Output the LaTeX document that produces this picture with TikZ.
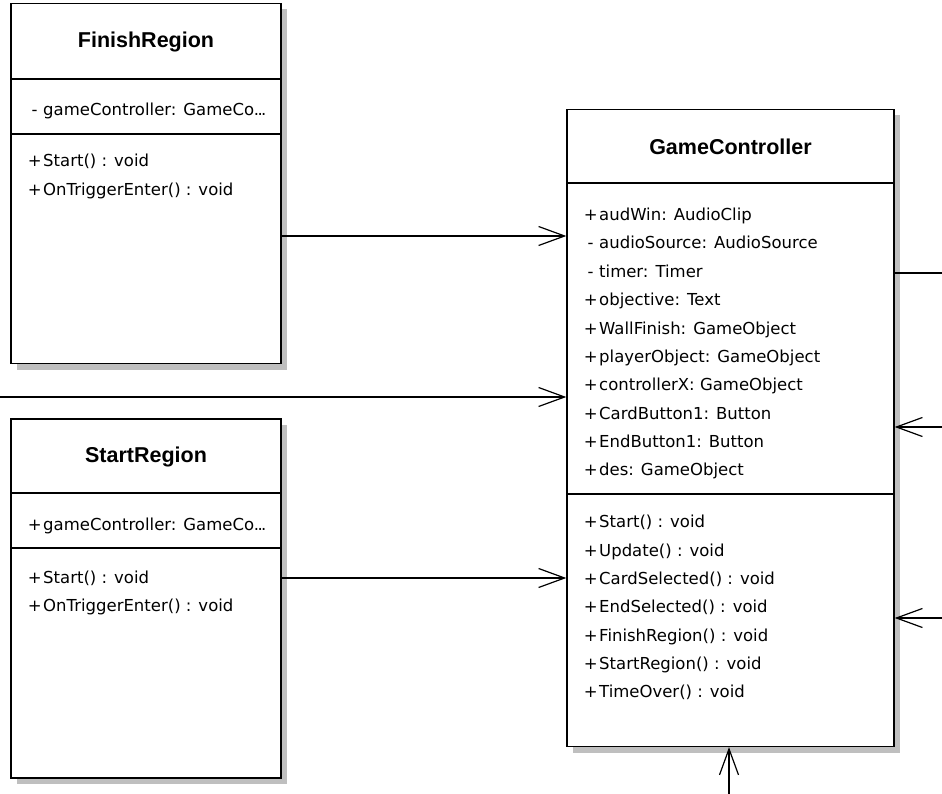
\documentclass[tikz,border=0pt]{standalone}
\usepackage{fontspec}
\setmainfont{DejaVu Sans}
\newfontfamily\titlefont{Liberation Sans}
\usetikzlibrary{arrows.meta,shadows}
\newcommand\sym[1]{\makebox[17pt][c]{#1}}
\newcommand\tdots{.\kern-1.6pt.\kern-1.6pt.}
\tikzset{
  cls/.style={draw=black, line width=1.3pt, fill=white, inner sep=0pt,
    general shadow={shadow xshift=6pt, shadow yshift=-6pt, fill=black!25}},
  sep/.style={line width=1.3pt},
  title/.style={font=\titlefont\bfseries\fontsize{21.5}{24}\selectfont, inner sep=0pt},
  item/.style={font=\fontsize{16.5}{20}\selectfont, inner sep=0pt, anchor=base west},
  assoc/.style={line width=1.2pt, -{Straight Barb[length=26pt,width=19pt,line width=1.2pt]}},
  plain/.style={line width=1.2pt}
}
\begin{document}
\begin{tikzpicture}[x=1pt,y=-1pt]
\useasboundingbox (0,0) rectangle (942,794);
% class boxes
\node[cls, minimum width=270pt, minimum height=360pt] (fin) at (146,183.5) {};
\node[cls, minimum width=270pt, minimum height=359pt] (sta) at (146,598.5) {};
\node[cls, minimum width=327pt, minimum height=637pt] (gc) at (730.5,428) {};
% dividers
\draw[sep] (fin.west |- 0,79) -- (fin.east |- 0,79);
\draw[sep] (fin.west |- 0,134) -- (fin.east |- 0,134);
\draw[sep] (sta.west |- 0,493) -- (sta.east |- 0,493);
\draw[sep] (sta.west |- 0,548) -- (sta.east |- 0,548);
\draw[sep] (gc.west |- 0,183) -- (gc.east |- 0,183);
\draw[sep] (gc.west |- 0,494) -- (gc.east |- 0,494);
% titles
\node[title] (fint) at (146,42) {FinishRegion};
\node[title] (stat) at (146,457) {StartRegion};
\node[title] (gct) at (730.5,146.5) {GameController};
% FinishRegion
\node[item] (fa1) at (26,115.5) {\sym{-}gameController: GameCo\tdots};
\node[item] (fm1) at (26,167) {\sym{+}Start() : void};
\node[item] (fm2) at (26,195.3) {\sym{+}OnTriggerEnter() : void};
% StartRegion
\node[item] (sa1) at (26,530.5) {\sym{+}gameController: GameCo\tdots};
\node[item] (sm1) at (26,583) {\sym{+}Start() : void};
\node[item] (sm2) at (26,611.3) {\sym{+}OnTriggerEnter() : void};
% GameController attributes
\node[item] (g1) at (582,220.7) {\sym{+}audWin: AudioClip};
\node[item] (g2) at (582,249.0) {\sym{-}audioSource: AudioSource};
\node[item] (g3) at (582,277.4) {\sym{-}timer: Timer};
\node[item] (g4) at (582,305.7) {\sym{+}objective: Text};
\node[item] (g5) at (582,334.0) {\sym{+}WallFinish: GameObject};
\node[item] (g6) at (582,362.4) {\sym{+}playerObject: GameObject};
\node[item] (g7) at (582,390.7) {\sym{+}controllerX: GameObject};
\node[item] (g8) at (582,419.0) {\sym{+}CardButton1: Button};
\node[item] (g9) at (582,447.4) {\sym{+}EndButton1: Button};
\node[item] (g10) at (582,475.7) {\sym{+}des: GameObject};
% GameController methods
\node[item] (h1) at (582,527.7) {\sym{+}Start() : void};
\node[item] (h2) at (582,556.0) {\sym{+}Update() : void};
\node[item] (h3) at (582,584.4) {\sym{+}CardSelected() : void};
\node[item] (h4) at (582,612.7) {\sym{+}EndSelected() : void};
\node[item] (h5) at (582,641.0) {\sym{+}FinishRegion() : void};
\node[item] (h6) at (582,669.4) {\sym{+}StartRegion() : void};
\node[item] (h7) at (582,697.7) {\sym{+}TimeOver() : void};
% free ends
\coordinate (lin) at (0,397);
\coordinate (rout) at (942,273);
\coordinate (rin1) at (942,427);
\coordinate (rin2) at (942,618);
\coordinate (bin) at (729,794);
% connectors
\draw[assoc] (fin.east |- 0,236) -- (gc.west |- 0,236);
\draw[assoc] (lin) -- (gc.west |- lin);
\draw[assoc] (sta.east |- 0,578) -- (gc.west |- 0,578);
\draw[plain] (gc.east |- rout) -- (rout);
\draw[assoc] (rin1) -- (gc.east |- rin1);
\draw[assoc] (rin2) -- (gc.east |- rin2);
\draw[assoc] (bin) -- (gc.south -| bin);
\end{tikzpicture}
\end{document}
